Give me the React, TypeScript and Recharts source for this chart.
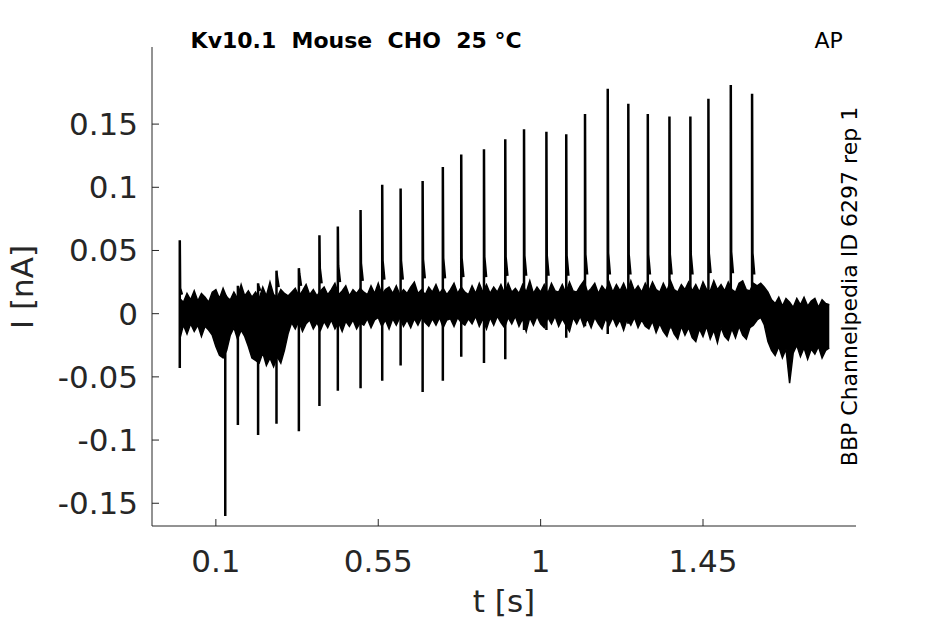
import { ComposedChart, Area, Line, XAxis, YAxis } from "recharts";

// sampling step of the noise envelope (s)
const SAMPLE_STEP = 0.01;
// times from a transient's peak to its knee and decaying shoulder (s)
const KNEE_LAG = 0.001;
const TAIL_LAG = 0.006;

// upper edge of the overlaid sweeps (nA), one value per SAMPLE_STEP from t = 0
const bandHigh = [
  0.012, 0.009, 0.016, 0.011, 0.018, 0.010, 0.016, 0.013, 0.009, 0.017,
  0.019, 0.012, 0.020, 0.013, 0.011, 0.017, 0.012, 0.023, 0.014, 0.018,
  0.013, 0.017, 0.012, 0.021, 0.014, 0.025, 0.015, 0.013, 0.019, 0.016,
  0.014, 0.017, 0.020, 0.014, 0.018, 0.023, 0.015, 0.019, 0.014, 0.018,
  0.021, 0.015, 0.019, 0.024, 0.015, 0.018, 0.022, 0.014, 0.019, 0.016,
  0.020, 0.017, 0.015, 0.022, 0.016, 0.024, 0.015, 0.019, 0.021, 0.016,
  0.022, 0.015, 0.019, 0.016, 0.021, 0.025, 0.016, 0.019, 0.015, 0.021,
  0.017, 0.023, 0.016, 0.020, 0.015, 0.019, 0.024, 0.016, 0.021, 0.017,
  0.015, 0.022, 0.016, 0.024, 0.017, 0.023, 0.016, 0.021, 0.017, 0.023,
  0.016, 0.024, 0.017, 0.020, 0.016, 0.023, 0.017, 0.026, 0.016, 0.021,
  0.017, 0.023, 0.016, 0.024, 0.018, 0.017, 0.023, 0.016, 0.025, 0.018,
  0.017, 0.022, 0.026, 0.017, 0.020, 0.024, 0.016, 0.022, 0.018, 0.025,
  0.017, 0.023, 0.018, 0.024, 0.017, 0.026, 0.018, 0.022, 0.017, 0.024,
  0.018, 0.025, 0.019, 0.017, 0.024, 0.018, 0.026, 0.019, 0.017, 0.023,
  0.019, 0.025, 0.018, 0.023, 0.017, 0.025, 0.019, 0.018, 0.026, 0.019,
  0.023, 0.018, 0.025, 0.019, 0.017, 0.024, 0.026, 0.019, 0.018, 0.024,
  0.022, 0.024, 0.021, 0.017, 0.011, 0.008, 0.013, 0.006, 0.012, 0.009,
  0.005, 0.012, 0.007, 0.013, 0.006, 0.010, 0.012, 0.005, 0.011, 0.008,
  0.007,
];

// lower edge of the overlaid sweeps (nA)
const bandLow = [
  -0.020, -0.009, -0.016, -0.008, -0.014, -0.009, -0.018, -0.010, -0.013, -0.017,
  -0.026, -0.033, -0.035, -0.029, -0.017, -0.011, -0.020, -0.013, -0.018, -0.026,
  -0.035, -0.037, -0.039, -0.031, -0.041, -0.035, -0.042, -0.034, -0.039, -0.029,
  -0.016, -0.007, -0.012, -0.006, -0.014, -0.008, -0.005, -0.012, -0.007, -0.013,
  -0.006, -0.011, -0.005, -0.012, -0.007, -0.014, -0.006, -0.010, -0.005, -0.012,
  -0.007, -0.009, -0.004, -0.011, -0.005, -0.003, -0.010, -0.005, -0.012, -0.004,
  -0.009, -0.003, -0.010, -0.005, -0.011, -0.004, -0.009, -0.003, -0.007, -0.010,
  -0.004, -0.009, -0.003, -0.011, -0.005, -0.004, -0.010, -0.003, -0.007, -0.009,
  -0.004, -0.008, -0.002, -0.010, -0.004, -0.012, -0.003, -0.009, -0.002, -0.007,
  -0.011, -0.003, -0.008, -0.002, -0.010, -0.004, -0.014, -0.003, -0.009, -0.002,
  -0.008, -0.011, -0.003, -0.008, -0.002, -0.010, -0.004, -0.009, -0.014, -0.003,
  -0.008, -0.002, -0.010, -0.004, -0.011, -0.003, -0.008, -0.012, -0.004, -0.009,
  -0.003, -0.010, -0.005, -0.013, -0.004, -0.009, -0.003, -0.011, -0.005, -0.010,
  -0.012, -0.006, -0.015, -0.008, -0.014, -0.018, -0.009, -0.016, -0.020, -0.010,
  -0.017, -0.011, -0.019, -0.022, -0.012, -0.018, -0.010, -0.020, -0.013, -0.023,
  -0.011, -0.018, -0.021, -0.012, -0.019, -0.010, -0.017, -0.020, -0.011, -0.009,
  -0.005, -0.003, -0.009, -0.022, -0.029, -0.033, -0.026, -0.035, -0.028, -0.055,
  -0.031, -0.025, -0.034, -0.027, -0.036, -0.028, -0.032, -0.026, -0.035, -0.029,
  -0.027,
];

// action-potential evoked current transients
const spikeTimes = [
  0.0, 0.126, 0.161, 0.217, 0.268, 0.33, 0.387, 0.438, 0.501, 0.561,
  0.612, 0.673, 0.729, 0.78, 0.843, 0.902, 0.954, 1.016, 1.071, 1.123,
  1.186, 1.243, 1.297, 1.357, 1.415, 1.465, 1.527, 1.586,
];
const spikePeaks = [
  0.058, 0.014, 0.022, 0.024, 0.034, 0.036, 0.062, 0.069, 0.082, 0.102,
  0.099, 0.105, 0.116, 0.126, 0.13, 0.138, 0.146, 0.144, 0.142, 0.158,
  0.178, 0.166, 0.158, 0.156, 0.156, 0.17, 0.181, 0.174,
];
const spikeTroughs = [
  -0.043, -0.16, -0.088, -0.096, -0.087, -0.093, -0.073, -0.061, -0.059, -0.053,
  -0.041, -0.062, -0.053, -0.034, -0.039, -0.036, -0.013, -0.013, -0.019, -0.01,
  -0.016, -0.008, -0.01, -0.012, -0.012, -0.014, -0.012, -0.01,
];
const spikeKnees = [
  0.02, 0.014, 0.02, 0.022, 0.03, 0.032, 0.036, 0.038, 0.04, 0.042,
  0.042, 0.043, 0.044, 0.044, 0.045, 0.045, 0.046, 0.046, 0.046, 0.047,
  0.048, 0.047, 0.047, 0.047, 0.047, 0.048, 0.049, 0.048,
];
const spikeTails = [
  0.015, 0.012, 0.016, 0.018, 0.021, 0.022, 0.024, 0.025, 0.026, 0.027,
  0.027, 0.028, 0.028, 0.029, 0.029, 0.030, 0.030, 0.030, 0.030, 0.031,
  0.031, 0.031, 0.031, 0.031, 0.031, 0.032, 0.032, 0.031,
];

const xTicks = [0.1, 0.55, 1, 1.45];
const yTicks = [-0.15, -0.1, -0.05, 0, 0.05, 0.1, 0.15];

const bandData = bandHigh.map((h, i) => ({
  t: Math.round(i * SAMPLE_STEP * 100) / 100,
  range: [bandLow[i], h],
}));

// trough -> peak -> knee -> shoulder, then a gap so each transient is its own stroke
const spikeData = spikeTimes.flatMap((t, i) => [
  { t, i: spikeTroughs[i] },
  { t, i: spikePeaks[i] },
  { t: t + KNEE_LAG, i: spikeKnees[i] },
  { t: t + TAIL_LAG, i: spikeTails[i] },
  { t: t + TAIL_LAG + 0.0005, i: null },
]);

const AXIS = "#262626";
const FONT = "DejaVu Sans";

const YTick = ({ x, y, payload }: any) => (
  <g>
    <line x1={x} x2={x + 7} y1={y} y2={y} stroke={AXIS} strokeWidth={1} />
    <text x={x - 14} y={y + 11} textAnchor="end" fontSize={31} fill={AXIS} fontFamily={FONT}>
      {String(payload.value)}
    </text>
  </g>
);

const XTick = ({ x, y, payload }: any) => (
  <g>
    <line x1={x} x2={x} y1={y} y2={y - 7} stroke={AXIS} strokeWidth={1} />
    <text x={x} y={y + 46} textAnchor="middle" fontSize={31} fill={AXIS} fontFamily={FONT}>
      {String(payload.value)}
    </text>
  </g>
);

export default function App() {
  return (
    <div style={{ position: "relative", width: 930, height: 610 }}>
      <ComposedChart
        width={930}
        height={610}
        data={bandData}
        margin={{ top: 39, right: 82, bottom: 0, left: 0 }}
      >
        <XAxis
          dataKey="t"
          type="number"
          domain={[-0.077, 1.874]}
          allowDataOverflow
          ticks={xTicks}
          tick={<XTick />}
          tickSize={0}
          tickMargin={0}
          tickLine={false}
          height={92}
          axisLine={{ stroke: AXIS, strokeWidth: 1 }}
        />
        <YAxis
          type="number"
          domain={[-0.168, 0.211]}
          allowDataOverflow
          ticks={yTicks}
          tick={<YTick />}
          tickSize={0}
          tickMargin={0}
          tickLine={false}
          width={144}
          axisLine={{ stroke: AXIS, strokeWidth: 1 }}
        />
        <Area
          dataKey="range"
          type="linear"
          stroke="#000"
          strokeWidth={1.5}
          fill="#000"
          fillOpacity={1}
          dot={false}
          activeDot={false}
          isAnimationActive={false}
        />
        <Line
          data={spikeData}
          dataKey="i"
          type="linear"
          stroke="#000"
          strokeWidth={2.5}
          dot={false}
          activeDot={false}
          connectNulls={false}
          isAnimationActive={false}
        />
      </ComposedChart>
      <svg
        width={930}
        height={610}
        overflow="visible"
        style={{ position: "absolute", left: 0, top: 0, pointerEvents: "none", overflow: "visible" }}
      >
        <text
          x={182.6}
          y={40.3}
          fontSize={22}
          fontWeight="bold"
          fill="#000"
          fontFamily={FONT}
          xmlSpace="preserve"
          style={{ whiteSpace: "pre" }}
        >
          {"Kv10.1  Mouse  CHO  25 °C"}
        </text>
        <text x={806.5} y={40.3} fontSize={22} fill="#000" fontFamily={FONT}>
          AP
        </text>
        <text
          x={848.5}
          y={278.5}
          fontSize={22}
          fill="#000"
          fontFamily={FONT}
          textAnchor="middle"
          transform="rotate(-90 848.5 278.5)"
        >
          BBP Channelpedia ID 6297 rep 1
        </text>
        <text x={496} y={604} fontSize={31} fill={AXIS} fontFamily={FONT} textAnchor="middle">
          t [s]
        </text>
        <text
          x={25}
          y={279}
          fontSize={31}
          fill={AXIS}
          fontFamily={FONT}
          textAnchor="middle"
          transform="rotate(-90 25 279)"
        >
          I [nA]
        </text>
      </svg>
    </div>
  );
}
